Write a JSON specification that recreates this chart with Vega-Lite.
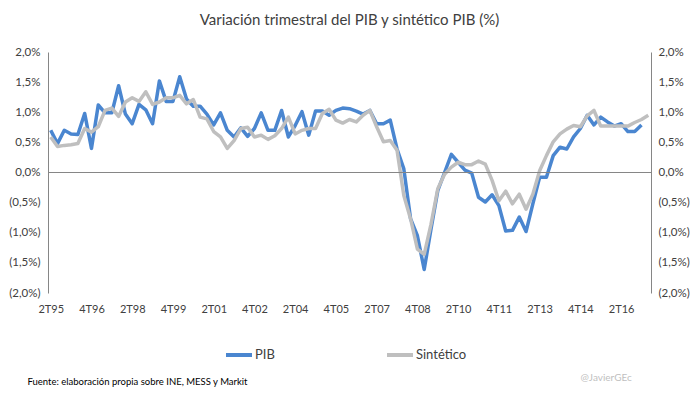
{
  "$schema": "https://vega.github.io/schema/vega-lite/v6.json",
  "width": 603,
  "height": 241,
  "autosize": {"type": "none"},
  "padding": {"left": 48, "top": 52, "right": 49, "bottom": 104},
  "background": "white",
  "config": {"view": {"stroke": null}, "font": "Lato"},
  "title": {"text": "Variación trimestral del PIB y sintético PIB (%)", "fontSize": 15, "fontWeight": "normal", "color": "#404040", "offset": 18, "anchor": "middle", "font": "Lato"},
  "layer": [
    {
      "data": {"values": [
        {"t":"2T95","PIB":0.70,"Sintético":0.59},{"t":"3T95","PIB":0.48,"Sintético":0.43},{"t":"4T95","PIB":0.70,"Sintético":0.45},{"t":"1T96","PIB":0.64,"Sintético":0.46},
        {"t":"2T96","PIB":0.63,"Sintético":0.48},{"t":"3T96","PIB":0.98,"Sintético":0.73},{"t":"4T96","PIB":0.40,"Sintético":0.67},{"t":"1T97","PIB":1.12,"Sintético":0.76},
        {"t":"2T97","PIB":0.99,"Sintético":1.03},{"t":"3T97","PIB":0.99,"Sintético":1.07},{"t":"4T97","PIB":1.44,"Sintético":0.93},{"t":"1T98","PIB":0.97,"Sintético":1.17},
        {"t":"2T98","PIB":0.81,"Sintético":1.24},{"t":"3T98","PIB":1.13,"Sintético":1.18},{"t":"4T98","PIB":1.04,"Sintético":1.34},{"t":"1T99","PIB":0.81,"Sintético":1.13},
        {"t":"2T99","PIB":1.52,"Sintético":1.17},{"t":"3T99","PIB":1.18,"Sintético":1.24},{"t":"4T99","PIB":1.18,"Sintético":1.24},{"t":"1T00","PIB":1.59,"Sintético":1.28},
        {"t":"2T00","PIB":1.22,"Sintético":1.14},{"t":"3T00","PIB":1.10,"Sintético":1.21},{"t":"4T00","PIB":1.10,"Sintético":0.92},{"t":"1T01","PIB":0.97,"Sintético":0.89},
        {"t":"2T01","PIB":0.79,"Sintético":0.68},{"t":"3T01","PIB":0.99,"Sintético":0.59},{"t":"4T01","PIB":0.70,"Sintético":0.40},{"t":"1T02","PIB":0.59,"Sintético":0.53},
        {"t":"2T02","PIB":0.74,"Sintético":0.73},{"t":"3T02","PIB":0.60,"Sintético":0.75},{"t":"4T02","PIB":0.73,"Sintético":0.59},{"t":"1T03","PIB":0.99,"Sintético":0.62},
        {"t":"2T03","PIB":0.70,"Sintético":0.55},{"t":"3T03","PIB":0.70,"Sintético":0.61},{"t":"4T03","PIB":1.03,"Sintético":0.73},{"t":"1T04","PIB":0.59,"Sintético":0.92},
        {"t":"2T04","PIB":0.78,"Sintético":0.64},{"t":"3T04","PIB":1.01,"Sintético":0.70},{"t":"4T04","PIB":0.62,"Sintético":0.73},{"t":"1T05","PIB":1.02,"Sintético":0.73},
        {"t":"2T05","PIB":1.02,"Sintético":0.98},{"t":"3T05","PIB":0.95,"Sintético":1.05},{"t":"4T05","PIB":1.03,"Sintético":0.87},{"t":"1T06","PIB":1.07,"Sintético":0.82},
        {"t":"2T06","PIB":1.06,"Sintético":0.88},{"t":"3T06","PIB":1.02,"Sintético":0.84},{"t":"4T06","PIB":0.97,"Sintético":0.95},{"t":"1T07","PIB":1.03,"Sintético":1.03},
        {"t":"2T07","PIB":0.81,"Sintético":0.76},{"t":"3T07","PIB":0.81,"Sintético":0.51},{"t":"4T07","PIB":0.87,"Sintético":0.53},{"t":"1T08","PIB":0.39,"Sintético":0.37},
        {"t":"2T08","PIB":0.06,"Sintético":-0.38},{"t":"3T08","PIB":-0.77,"Sintético":-0.77},{"t":"4T08","PIB":-1.05,"Sintético":-1.27},{"t":"1T09","PIB":-1.61,"Sintético":-1.36},
        {"t":"2T09","PIB":-0.94,"Sintético":-0.86},{"t":"3T09","PIB":-0.30,"Sintético":-0.27},{"t":"4T09","PIB":0.00,"Sintético":-0.03},{"t":"1T10","PIB":0.30,"Sintético":0.09},
        {"t":"2T10","PIB":0.17,"Sintético":0.17},{"t":"3T10","PIB":0.04,"Sintético":0.13},{"t":"4T10","PIB":-0.01,"Sintético":0.13},{"t":"1T11","PIB":-0.41,"Sintético":0.19},
        {"t":"2T11","PIB":-0.49,"Sintético":0.14},{"t":"3T11","PIB":-0.37,"Sintético":-0.13},{"t":"4T11","PIB":-0.55,"Sintético":-0.47},{"t":"1T12","PIB":-0.97,"Sintético":-0.31},
        {"t":"2T12","PIB":-0.96,"Sintético":-0.52},{"t":"3T12","PIB":-0.74,"Sintético":-0.36},{"t":"4T12","PIB":-0.98,"Sintético":-0.61},{"t":"1T13","PIB":-0.52,"Sintético":-0.36},
        {"t":"2T13","PIB":-0.08,"Sintético":0.03},{"t":"3T13","PIB":-0.08,"Sintético":0.28},{"t":"4T13","PIB":0.28,"Sintético":0.51},{"t":"1T14","PIB":0.42,"Sintético":0.64},
        {"t":"2T14","PIB":0.39,"Sintético":0.72},{"t":"3T14","PIB":0.59,"Sintético":0.78},{"t":"4T14","PIB":0.73,"Sintético":0.76},{"t":"1T15","PIB":0.95,"Sintético":0.94},
        {"t":"2T15","PIB":0.79,"Sintético":1.03},{"t":"3T15","PIB":0.92,"Sintético":0.77},{"t":"4T15","PIB":0.84,"Sintético":0.77},{"t":"1T16","PIB":0.77,"Sintético":0.77},
        {"t":"2T16","PIB":0.81,"Sintético":0.77},{"t":"3T16","PIB":0.68,"Sintético":0.77},{"t":"4T16","PIB":0.68,"Sintético":0.83},{"t":"1T17","PIB":0.79,"Sintético":0.88},
        {"t":"2T17","PIB":null,"Sintético":0.95}
      ]},
      "transform": [{"fold": ["PIB", "Sintético"], "as": ["serie", "valor"]}],
      "mark": {"type": "line", "strokeWidth": 3.5, "strokeJoin": "round"},
      "encoding": {
        "x": {
          "field": "t", "type": "ordinal", "sort": null,
          "scale": {"type": "point", "padding": 0.4},
          "axis": {
            "values": ["2T95","4T96","2T98","4T99","2T01","4T02","2T04","4T05","2T07","4T08","2T10","4T11","2T13","4T14","2T16"],
            "labelAngle": 0, "domain": false, "ticks": false, "labelPadding": 10,
            "labelFontSize": 11, "labelColor": "#404040", "labelFont": "Lato",
            "title": "Fuente: elaboración propia sobre INE, MESS y Markit",
            "titleFontSize": 9.5, "titleFontWeight": "normal", "titleColor": "#000000", "titleFont": "Lato",
            "titleAnchor": "start", "titleAlign": "left", "titleX": -21, "titleY": 88, "titleBaseline": "middle"
          }
        },
        "y": {
          "field": "valor", "type": "quantitative",
          "scale": {"domain": [-2, 2], "nice": false, "zero": false},
          "axis": {
            "values": [-2, -1.5, -1, -0.5, 0, 0.5, 1, 1.5, 2],
            "labelExpr": "datum.value < 0 ? '(' + replace(format(-datum.value, '.1f'), '.', ',') + '%)' : replace(format(datum.value, '.1f'), '.', ',') + '%'",
            "grid": false, "ticks": false, "domain": true, "domainColor": "#868686",
            "labelPadding": 8, "labelFontSize": 11.5, "labelColor": "#404040", "labelFont": "Lato",
            "title": null
          }
        },
        "color": {
          "field": "serie", "type": "nominal",
          "scale": {"domain": ["PIB", "Sintético"], "range": ["#4A86D0", "#BFBFBF"]},
          "legend": {
            "orient": "none", "legendX": 176, "legendY": 288, "direction": "horizontal",
            "title": null, "symbolType": "stroke", "symbolStrokeWidth": 4, "symbolSize": 676,
            "labelFontSize": 13, "labelColor": "#404040", "labelFont": "Lato",
            "columnPadding": 104, "labelOffset": 1
          }
        },
        "order": {"value": null}
      }
    },
    {
      "data": {"values": [{}]},
      "mark": {"type": "rule", "color": "#868686", "strokeWidth": 1},
      "encoding": {
        "y": {
          "datum": 0, "type": "quantitative",
          "axis": {
            "orient": "right",
            "values": [-2, -1.5, -1, -0.5, 0, 0.5, 1, 1.5, 2],
            "labelExpr": "datum.value < 0 ? '(' + replace(format(-datum.value, '.1f'), '.', ',') + '%)' : replace(format(datum.value, '.1f'), '.', ',') + '%'",
            "grid": false, "ticks": false, "domain": true, "domainColor": "#868686",
            "labelPadding": 7, "labelFontSize": 11.5, "labelColor": "#404040", "labelFont": "Lato",
            "title": "@JavierGEc", "titleAngle": 0, "titleX": -71, "titleY": 325,
            "titleAlign": "left", "titleBaseline": "middle", "titleColor": "#BFBFBF",
            "titleFontSize": 10, "titleFontWeight": "normal", "titleFont": "Lato"
          }
        }
      }
    }
  ],
  "resolve": {"axis": {"y": "independent"}}
}
